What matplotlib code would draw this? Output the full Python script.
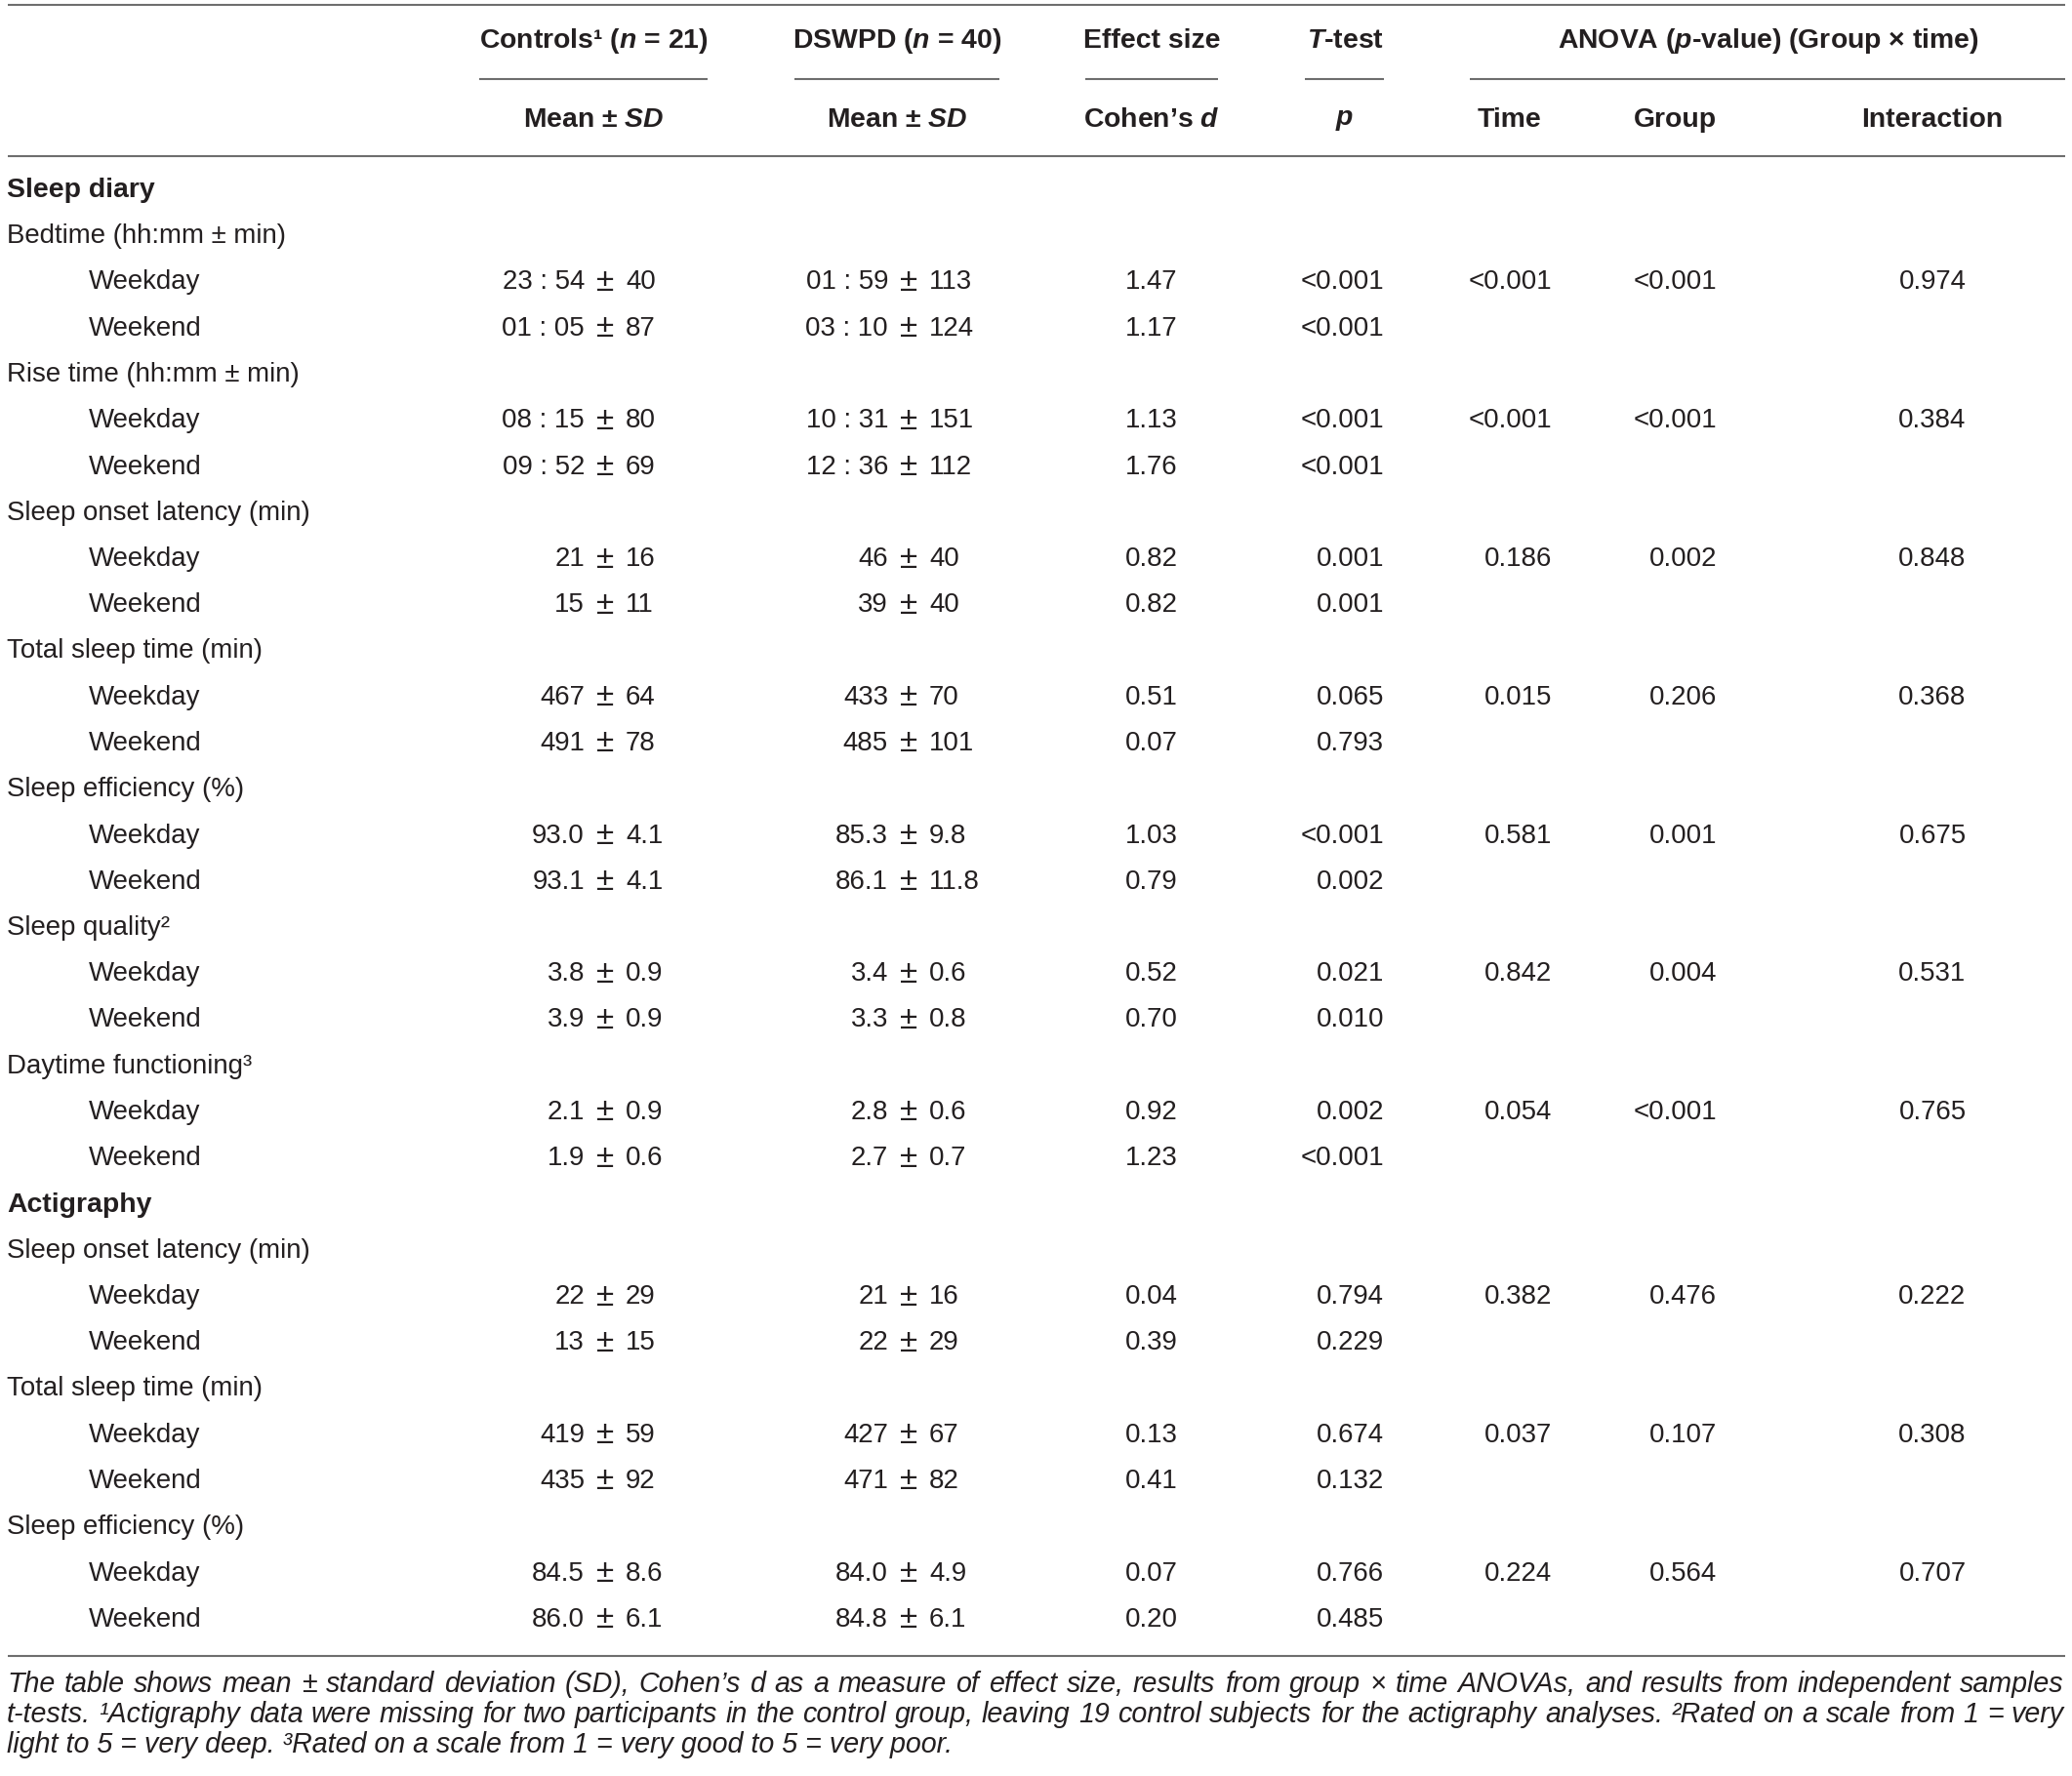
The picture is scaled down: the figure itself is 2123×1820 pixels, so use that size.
import matplotlib
matplotlib.use("Agg")
import matplotlib.pyplot as plt

plt.rcParams["font.family"] = ["Liberation Sans", "DejaVu Sans"]
plt.rcParams["mathtext.fontset"] = "custom"
plt.rcParams["mathtext.rm"] = "Liberation Sans"
plt.rcParams["mathtext.it"] = "Liberation Sans:italic"
plt.rcParams["mathtext.bf"] = "Liberation Sans:bold"
plt.rcParams["mathtext.bfit"] = "Liberation Sans:italic:bold"

# ---- data -------------------------------------------------------------
sections = ["Sleep diary", "Actigraphy"]
diary_measures = ["Bedtime (hh:mm ± min)", "Rise time (hh:mm ± min)",
                  "Sleep onset latency (min)", "Total sleep time (min)",
                  "Sleep efficiency (%)", "Sleep quality²", "Daytime functioning³"]
acti_measures = ["Sleep onset latency (min)", "Total sleep time (min)",
                 "Sleep efficiency (%)"]
day_types = ["Weekday", "Weekend"]

controls = ["23 : 54 ± 40", "01 : 05 ± 87", "08 : 15 ± 80", "09 : 52 ± 69",
            "21 ± 16", "15 ± 11", "467 ± 64", "491 ± 78", "93.0 ± 4.1",
            "93.1 ± 4.1", "3.8 ± 0.9", "3.9 ± 0.9", "2.1 ± 0.9", "1.9 ± 0.6",
            "22 ± 29", "13 ± 15", "419 ± 59", "435 ± 92", "84.5 ± 8.6",
            "86.0 ± 6.1"]
dswpd = ["01 : 59 ± 113", "03 : 10 ± 124", "10 : 31 ± 151", "12 : 36 ± 112",
         "46 ± 40", "39 ± 40", "433 ± 70", "485 ± 101", "85.3 ± 9.8",
         "86.1 ± 11.8", "3.4 ± 0.6", "3.3 ± 0.8", "2.8 ± 0.6", "2.7 ± 0.7",
         "21 ± 16", "22 ± 29", "427 ± 67", "471 ± 82", "84.0 ± 4.9",
         "84.8 ± 6.1"]
cohens_d = ["1.47", "1.17", "1.13", "1.76", "0.82", "0.82", "0.51", "0.07",
            "1.03", "0.79", "0.52", "0.70", "0.92", "1.23", "0.04", "0.39",
            "0.13", "0.41", "0.07", "0.20"]
t_test_p = ["<0.001", "<0.001", "<0.001", "<0.001", "0.001", "0.001", "0.065",
            "0.793", "<0.001", "0.002", "0.021", "0.010", "0.002", "<0.001",
            "0.794", "0.229", "0.674", "0.132", "0.766", "0.485"]
anova_time = ["<0.001", "<0.001", "0.186", "0.015", "0.581", "0.842", "0.054",
              "0.382", "0.037", "0.224"]
anova_group = ["<0.001", "<0.001", "0.002", "0.206", "0.001", "0.004",
               "<0.001", "0.476", "0.107", "0.564"]
anova_inter = ["0.974", "0.384", "0.848", "0.368", "0.675", "0.531", "0.765",
               "0.222", "0.308", "0.707"]

footnote = [
    "The table shows mean ± standard deviation (SD), Cohen’s d as a measure of "
    "effect size, results from group × time ANOVAs, and results from independent samples",
    "t-tests. ¹Actigraphy data were missing for two participants in the control "
    "group, leaving 19 control subjects for the actigraphy analyses. ²Rated on a scale from 1 = very",
    "light to 5 = very deep. ³Rated on a scale from 1 = very good to 5 = very poor.",
]

# ---- layout -----------------------------------------------------------
W, H = 2123, 1820
fig = plt.figure(figsize=(W / 100, H / 100), dpi=100)
ax = fig.add_axes([0, 0, 1, 1])
ax.set_xlim(0, W)
ax.set_ylim(H, 0)
ax.axis("off")

TXT = "#231f20"
LINE = "#6e6e6e"
FS = 19.9
HFS = 20.4

y_head1, y_head2 = 42, 123
y_first, dy = 195, 47.25

# horizontal rules
for y in (5, 160, 1697):
    ax.plot([8, 2116], [y, y], color=LINE, lw=1.5, solid_capstyle="butt")
for x0, x1 in [(491, 725), (814, 1024), (1112, 1248), (1337, 1418), (1506, 2116)]:
    ax.plot([x0, x1], [81, 81], color=LINE, lw=1.5, solid_capstyle="butt")

# headers
hkw = dict(ha="center", va="center", fontsize=HFS, fontweight="bold", color=TXT)
ax.text(608, y_head1, r"Controls¹ ($\mathbfit{n}$ = 21)", **hkw)
ax.text(919, y_head1, r"DSWPD ($\mathbfit{n}$ = 40)", **hkw)
ax.text(1180, y_head1, "Effect size", **hkw)
ax.text(1378, y_head1, r"$\mathbfit{T}$-test", **hkw)
ax.text(1812, y_head1, r"ANOVA ($\mathbfit{p}$-value) (Group × time)", **hkw)
ax.text(608, y_head2, r"Mean ± $\mathbfit{SD}$", **hkw)
ax.text(919, y_head2, r"Mean ± $\mathbfit{SD}$", **hkw)
ax.text(1180, y_head2, r"Cohen’s $\mathbfit{d}$", **hkw)
ax.text(1378, y_head2, r"$\mathbfit{p}$", **hkw)
ax.text(1546, y_head2, "Time", **hkw)
ax.text(1716, y_head2, "Group", **hkw)
ax.text(1980, y_head2, "Interaction", **hkw)

kw = dict(va="center", fontsize=FS, color=TXT)


def pm_cell(x_pm, y, s):
    left, right = s.split(" ± ")
    ax.text(x_pm - 21, y, left, ha="right", **kw)
    ax.text(x_pm, y, "±", ha="center", va="center", fontsize=FS * 1.2, color=TXT)
    ax.text(x_pm + 21, y, right, ha="left", **kw)


row = 0
k = 0
m = 0
for sec, measures in zip(sections, [diary_measures, acti_measures]):
    ax.text(7, y_first + row * dy, sec, ha="left", va="center",
            fontsize=HFS, fontweight="bold", color=TXT)
    row += 1
    for name in measures:
        y = y_first + row * dy
        ax.text(7, y, name, ha="left", **kw)
        row += 1
        for j, day in enumerate(day_types):
            y = y_first + row * dy
            ax.text(91, y, day, ha="left", **kw)
            pm_cell(620, y, controls[k])
            pm_cell(931, y, dswpd[k])
            ax.text(1180, y, cohens_d[k], ha="center", **kw)
            ax.text(1418, y, t_test_p[k], ha="right", **kw)
            if j == 0:
                ax.text(1590, y, anova_time[m], ha="right", **kw)
                ax.text(1759, y, anova_group[m], ha="right", **kw)
                ax.text(1980, y, anova_inter[m], ha="center", **kw)
            k += 1
            row += 1
        m += 1

# footnote, justified
renderer = fig.canvas.get_renderer()
fkw = dict(va="center", fontsize=20.6, style="italic", color=TXT)
x_left, x_right = 7, 2115
for i, line in enumerate(footnote):
    y = 1726 + i * 30.8
    words = line.split(" ")
    if i == len(footnote) - 1:
        ax.text(x_left, y, line, ha="left", **fkw)
        continue
    texts = [ax.text(0, y, w, ha="left", **fkw) for w in words]
    widths = [t.get_window_extent(renderer).width for t in texts]
    gap = (x_right - x_left - sum(widths)) / (len(words) - 1)
    x = x_left
    for t, w in zip(texts, widths):
        t.set_x(x)
        x += w + gap

fig.savefig("out.png", dpi=100)
